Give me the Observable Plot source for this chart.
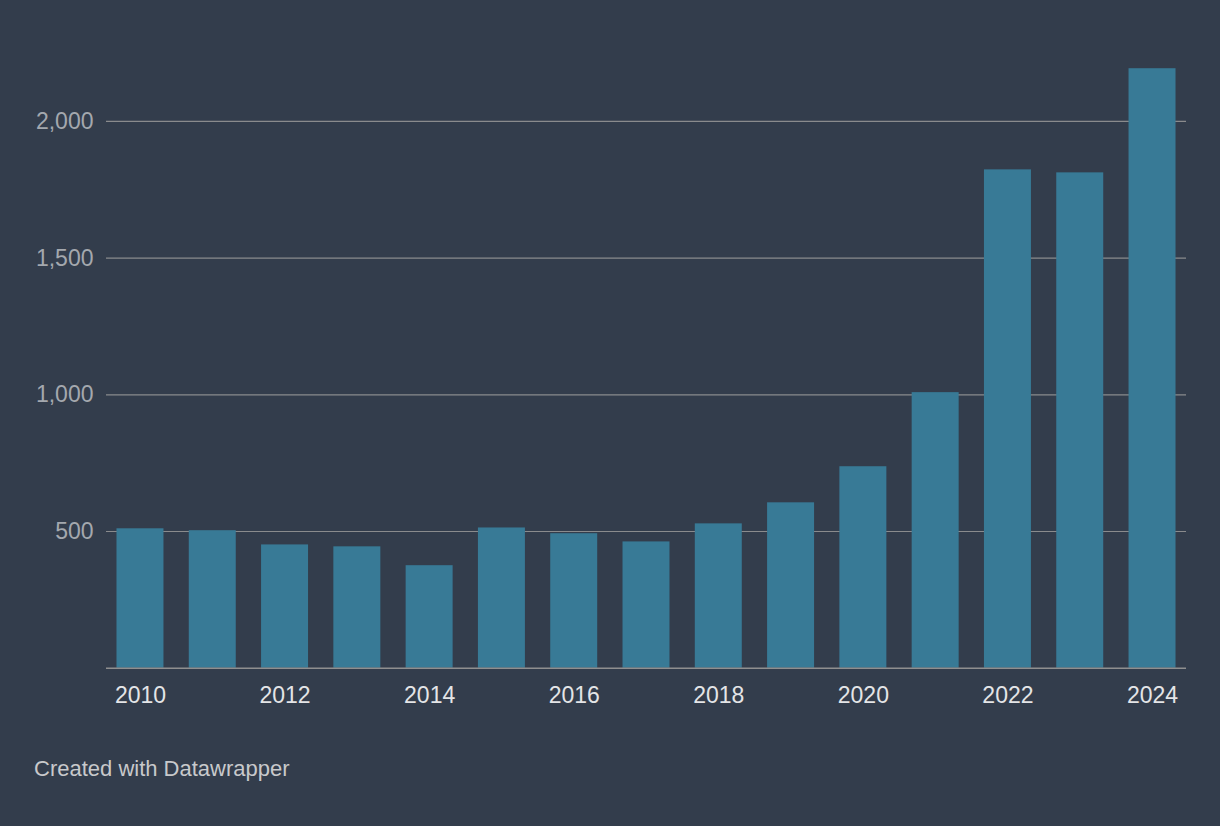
<!DOCTYPE html>
<html>
<head>
<meta charset="utf-8">
<script src="https://cdn.jsdelivr.net/npm/d3@7"></script>
<script src="https://cdn.jsdelivr.net/npm/@observablehq/plot@0.6"></script>
<style>
  html, body { margin: 0; padding: 0; background: #333d4c; }
  body { width: 1220px; height: 826px; position: relative; overflow: hidden; font-family: "Liberation Sans", Arial, sans-serif; }
  #chart { position: absolute; left: 0; top: 0; }
  #caption { position: absolute; left: 34px; top: 758px; font-size: 22px; line-height: 22px; color: #c8c9cb; white-space: nowrap; }
</style>
</head>
<body>
<div id="chart"></div>
<div id="caption">Created with Datawrapper</div>
<script>
const years = [2010, 2011, 2012, 2013, 2014, 2015, 2016, 2017, 2018, 2019, 2020, 2021, 2022, 2023, 2024];
const values = [510, 503, 451, 444, 375, 513, 492, 462, 528, 605, 737, 1008, 1823, 1812, 2193];
const yTicks = [500, 1000, 1500, 2000];
const xTicks = [2010, 2012, 2014, 2016, 2018, 2020, 2022, 2024];

const data = years.map((year, i) => ({year, value: values[i]}));

const chart = Plot.plot({
  width: 1220,
  height: 728,
  marginLeft: 106,
  marginRight: 34,
  marginTop: 66.3,
  marginBottom: 60.3,
  style: { background: "transparent", fontFamily: "Liberation Sans, Arial, sans-serif" },
  x: { type: "band", domain: years, paddingInner: 0.35, paddingOuter: 0.145, align: 0.5, round: false, axis: null },
  y: { domain: [0, 2200], axis: null },
  marks: [
    Plot.ruleY(yTicks, { stroke: "#8a8b8d", strokeWidth: 1.2 }),
    Plot.barY(data, { x: "year", y: "value", fill: "#387a96" }),
    Plot.ruleY([0], { stroke: "#8f8f8f", strokeWidth: 1.4 }),
    Plot.axisY({ ticks: yTicks, tickSize: 0, tickPadding: 13, tickFormat: d3.format(","), fontSize: 23, fill: "#a4a8ae", label: null }),
    Plot.axisX({ ticks: xTicks, tickSize: 0, tickPadding: 18, tickFormat: d => `${d}`, fontSize: 23, fill: "#e4e5e7", label: null })
  ]
});
document.getElementById("chart").appendChild(chart);
</script>
</body>
</html>
